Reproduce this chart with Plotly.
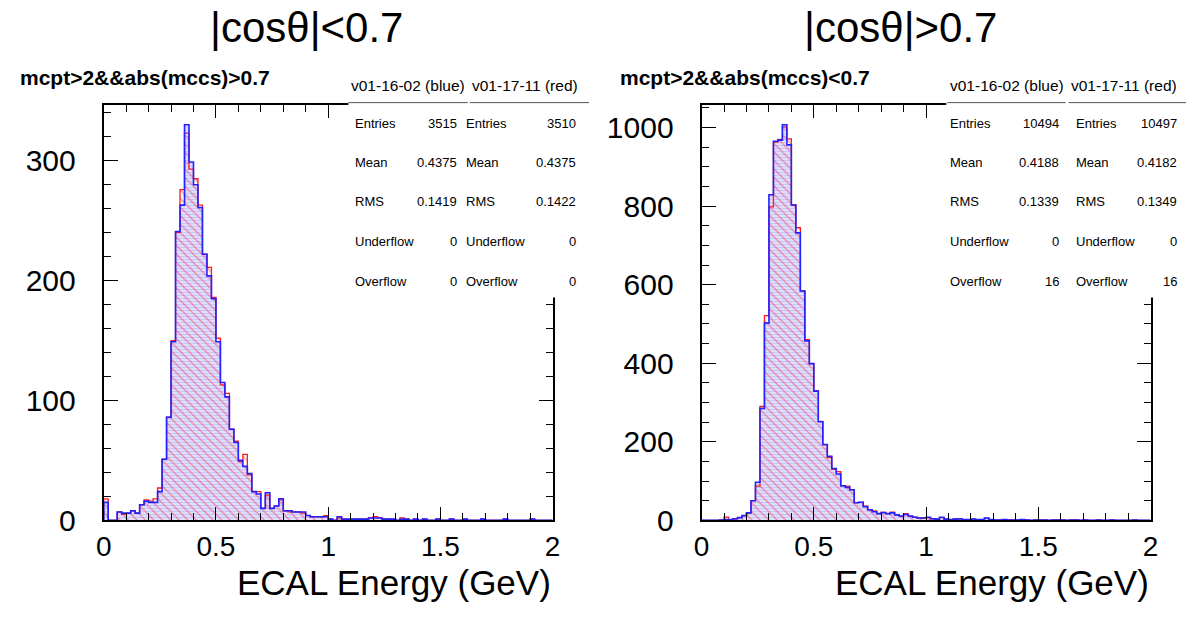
import numpy as np
import plotly.graph_objects as go

W, H = 1196, 621
FONT = "Liberation Sans, Arial, Helvetica, sans-serif"

# 100 bins of 0.02 GeV from 0 to 2 GeV
bin_edges = np.linspace(0.0, 2.0, 101)
x_tick_vals = [0, 0.5, 1, 1.5, 2]
x_tick_text = ["0", "0.5", "1", "1.5", "2"]

# forward region (left pad) bin contents
fwd_blue = [15, 0, 0, 7, 6, 6, 8, 6, 13, 16,
            15, 15, 24, 51, 86, 149, 241, 263, 330, 299,
            280, 261, 222, 204, 185, 149, 115, 103, 76, 65,
            50, 45, 39, 24, 22, 10, 23, 10, 12, 18,
            8, 8, 7, 7, 7, 4, 3, 3, 3, 3,
            1, 0, 3, 1, 1, 1, 1, 1, 1, 2,
            2, 2, 1, 1, 1, 0, 1, 1, 0, 1,
            0, 1, 0, 0, 1, 0, 0, 1, 0, 0,
            1, 0, 0, 0, 1, 0, 0, 0, 0, 1,
            0, 0, 0, 0, 0, 1, 0, 0, 0, 0]
fwd_red = [18, 0, 0, 7, 5, 6, 8, 6, 13, 17,
           16, 18, 27, 51, 86, 150, 240, 276, 323, 293,
           285, 263, 222, 211, 186, 152, 113, 106, 76, 66,
           49, 55, 38, 24, 24, 10, 21, 10, 12, 17,
           8, 7, 7, 7, 6, 4, 3, 3, 3, 4,
           1, 0, 2, 1, 1, 1, 1, 1, 1, 2,
           3, 2, 1, 1, 1, 0, 2, 1, 0, 1,
           0, 1, 0, 0, 1, 0, 0, 1, 0, 0,
           1, 0, 0, 0, 1, 0, 0, 0, 0, 1,
           0, 0, 0, 0, 0, 1, 0, 0, 0, 0]

# barrel region (right pad) bin contents
brl_blue = [0, 0, 0, 0, 1, 2, 2, 4, 7, 12,
            19, 50, 97, 285, 502, 829, 965, 968, 1007, 956,
            803, 732, 584, 457, 399, 329, 251, 193, 163, 132,
            118, 88, 84, 78, 45, 46, 35, 27, 22, 17,
            20, 17, 19, 14, 11, 15, 11, 8, 6, 6,
            8, 4, 3, 8, 3, 2, 3, 4, 2, 2,
            3, 2, 2, 6, 2, 1, 1, 2, 1, 1,
            1, 2, 1, 0, 1, 1, 1, 0, 1, 1,
            1, 0, 1, 1, 0, 1, 0, 0, 1, 0,
            0, 1, 0, 0, 0, 0, 1, 0, 0, 0]
brl_red = [0, 0, 0, 0, 1, 8, 2, 4, 7, 12,
           19, 50, 87, 290, 521, 798, 963, 970, 1002, 971,
           803, 745, 584, 460, 399, 330, 252, 193, 160, 130,
           124, 88, 87, 78, 45, 46, 36, 27, 24, 17,
           20, 17, 21, 14, 11, 17, 11, 8, 6, 6,
           7, 4, 3, 7, 3, 2, 3, 3, 2, 2,
           3, 2, 2, 5, 2, 1, 1, 2, 1, 1,
           1, 2, 1, 0, 1, 1, 1, 0, 1, 1,
           1, 0, 1, 1, 0, 1, 0, 0, 1, 0,
           0, 1, 0, 0, 0, 0, 1, 0, 0, 0]

stat_names = ["Entries", "Mean", "RMS", "Underflow", "Overflow"]
fwd_blue_stats = ["3515", "0.4375", "0.1419", "0", "0"]
fwd_red_stats = ["3510", "0.4375", "0.1422", "0", "0"]
brl_blue_stats = ["10494", "0.4188", "0.1339", "0", "16"]
brl_red_stats = ["10497", "0.4182", "0.1349", "0", "16"]

pad_titles = ["|cosθ|<0.7", "|cosθ|>0.7"]
pad_cuts = ["mcpt>2&&abs(mccs)>0.7", "mcpt>2&&abs(mccs)<0.7"]
stat_heads = ["v01-16-02 (blue)", "v01-17-11 (red)"]
x_title = "ECAL Energy (GeV)"


def px(x):
    return x / W


def py(y):
    return 1 - y / H


def esc(s):
    return s.replace("&", "&amp;").replace("<", "&lt;").replace(">", "&gt;")


centers = 0.5 * (bin_edges[:-1] + bin_edges[1:])
widths = np.diff(bin_edges)


def step_xy(counts):
    xs = [bin_edges[0]] + list(bin_edges[:-1]) + [bin_edges[-1], bin_edges[-1]]
    ys = [0] + list(counts) + [counts[-1], 0]
    return xs, ys


fig = go.Figure()

# pad geometry in pixels
pads = [
    dict(xa="x", ya="y", x0=97, x1=552, blue=fwd_blue, red=fwd_red,
         bstats=fwd_blue_stats, rstats=fwd_red_stats, dtick=100, minor=20,
         title_cx=303, cut_x=10, box=(345, 597), head_x=[346, 468],
         lab_x=[350, 462], val_x=[457, 578], line_x=[(345, 466), (468, 589)]),
    dict(xa="x2", ya="y2", x0=703, x1=1158, blue=brl_blue, red=brl_red,
         bstats=brl_blue_stats, rstats=brl_red_stats, dtick=200, minor=50,
         title_cx=905, cut_x=618, box=(951, 1196), head_x=[953, 1075],
         lab_x=[953, 1080], val_x=[1067, 1187], line_x=[(952, 1072), (1075, 1194)]),
]

y_top, y_bot = 108, 535
annotations = []
shapes = []

for i, p in enumerate(pads):
    # hatched fills
    fig.add_trace(go.Bar(
        x=centers, y=p["blue"], width=widths, xaxis=p["xa"], yaxis=p["ya"],
        marker=dict(color="rgba(0,0,0,0)", line=dict(width=0),
                    pattern=dict(shape="-", size=3, solidity=0.7,
                                 fgcolor="rgba(120,120,255,0.85)",
                                 bgcolor="rgba(0,0,0,0)", fillmode="overlay")),
        showlegend=False, hoverinfo="skip"))
    fig.add_trace(go.Bar(
        x=centers, y=p["red"], width=widths, xaxis=p["xa"], yaxis=p["ya"],
        marker=dict(color="rgba(0,0,0,0)", line=dict(width=0),
                    pattern=dict(shape="\\", size=6, solidity=0.22,
                                 fgcolor="rgba(255,30,30,0.9)",
                                 bgcolor="rgba(0,0,0,0)", fillmode="overlay")),
        showlegend=False, hoverinfo="skip"))
    # outlines
    rx, ry = step_xy(p["red"])
    fig.add_trace(go.Scatter(x=rx, y=ry, mode="lines", line=dict(color="#ff1a1a", width=1.3, shape="hv"),
                             xaxis=p["xa"], yaxis=p["ya"], showlegend=False, hoverinfo="skip"))
    bx, by = step_xy(p["blue"])
    fig.add_trace(go.Scatter(x=bx, y=by, mode="lines", line=dict(color="#2222ff", width=1.6, shape="hv"),
                             xaxis=p["xa"], yaxis=p["ya"], showlegend=False, hoverinfo="skip"))

    ymax = 1.05 * max(max(p["blue"]), max(p["red"]))
    suffix = "" if i == 0 else "2"
    axis_common = dict(showline=True, linewidth=2, linecolor="black", mirror="allticks",
                       ticks="inside", tickcolor="black", tickwidth=1, showgrid=False,
                       zeroline=False)
    fig.update_layout(**{
        "xaxis" + suffix: dict(domain=[px(p["x0"]), px(p["x1"])], range=[0, 2],
                               anchor="y" + suffix, tickvals=x_tick_vals, ticktext=x_tick_text,
                               ticklen=13, tickfont=dict(family=FONT, size=28, color="black"),
                               minor=dict(dtick=0.1, tick0=0, ticklen=7, ticks="inside",
                                          tickcolor="black", tickwidth=1),
                               **axis_common),
        "yaxis" + suffix: dict(domain=[py(y_bot), py(y_top)], range=[0, ymax],
                               anchor="x" + suffix, tick0=0, dtick=p["dtick"], ticklen=14,
                               ticklabelstandoff=20, tickfont=dict(family=FONT, size=30, color="black"),
                               minor=dict(dtick=p["minor"], tick0=0, ticklen=7, ticks="inside",
                                          tickcolor="black", tickwidth=1),
                               **axis_common),
    })

    # stats panel background hides the frame behind it
    shapes.append(dict(type="rect", xref="paper", yref="paper",
                       x0=px(p["box"][0]), x1=px(p["box"][1]), y0=py(306), y1=py(103),
                       fillcolor="white", line=dict(width=0), layer="above"))
    for (lx0, lx1) in p["line_x"]:
        shapes.append(dict(type="line", xref="paper", yref="paper",
                           x0=px(lx0), x1=px(lx1), y0=py(105.5), y1=py(105.5),
                           line=dict(color="#555555", width=1), layer="above"))

    annotations.append(dict(text=esc(pad_titles[i]), x=px(p["title_cx"]), y=py(28), xref="paper", yref="paper",
                            xanchor="center", yanchor="middle", showarrow=False,
                            font=dict(family=FONT, size=42, color="black")))
    annotations.append(dict(text="<b>" + esc(pad_cuts[i]) + "</b>",
                            x=px(p["cut_x"]), y=py(80), xref="paper", yref="paper",
                            xanchor="left", yanchor="middle", showarrow=False,
                            font=dict(family=FONT, size=21, color="black")))
    for k in range(2):
        annotations.append(dict(text=stat_heads[k], x=px(p["head_x"][k]), y=py(88), xref="paper", yref="paper",
                                xanchor="left", yanchor="middle", showarrow=False,
                                font=dict(family=FONT, size=15.5, color="black")))
    row_y = [127, 167.5, 207.5, 248.5, 289]
    for r, name in enumerate(stat_names):
        for k, vals in enumerate([p["bstats"], p["rstats"]]):
            annotations.append(dict(text=name, x=px(p["lab_x"][k]), y=py(row_y[r]), xref="paper", yref="paper",
                                    xanchor="left", yanchor="middle", showarrow=False,
                                    font=dict(family=FONT, size=13, color="black")))
            annotations.append(dict(text=vals[r], x=px(p["val_x"][k]), y=py(row_y[r]), xref="paper", yref="paper",
                                    xanchor="right", yanchor="middle", showarrow=False,
                                    font=dict(family=FONT, size=13, color="black")))
    annotations.append(dict(text=x_title, x=px(p["x1"]), y=py(599), xref="paper", yref="paper",
                            xanchor="right", yanchor="middle", showarrow=False,
                            font=dict(family=FONT, size=35, color="black")))

fig.update_layout(
    width=W, height=H, margin=dict(l=0, r=0, t=0, b=0),
    paper_bgcolor="white", plot_bgcolor="white",
    barmode="overlay", bargap=0,
    shapes=shapes, annotations=annotations,
    showlegend=False,
)

fig.write_html("out.html")
